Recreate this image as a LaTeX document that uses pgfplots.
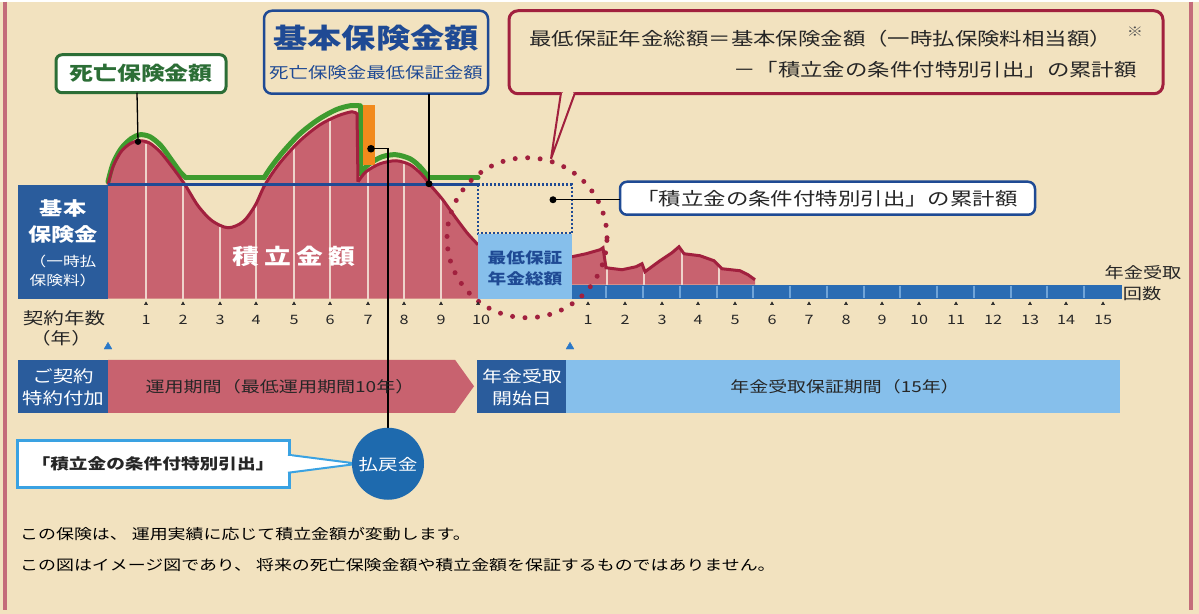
\documentclass[border=0pt]{standalone}
\usepackage{pgfplots}
\pgfplotsset{compat=1.18}
\usepackage{fontspec}
\setmainfont{Noto Sans CJK JP}
\definecolor{bg}{HTML}{F2E2BF}
\definecolor{frame}{HTML}{C46C7A}
\definecolor{pinkA}{HTML}{C8626F}
\definecolor{redL}{HTML}{A1203E}
\definecolor{greenL}{HTML}{3E9B2E}
\definecolor{greenT}{HTML}{2C6E36}
\definecolor{navy}{HTML}{1F4A94}
\definecolor{boxblue}{HTML}{2A5C9C}
\definecolor{lightblue}{HTML}{86BFEB}
\definecolor{barblue}{HTML}{2A6CB3}
\definecolor{sepblue}{HTML}{6FA4D8}
\definecolor{orangeB}{HTML}{F28A1C}
\definecolor{cyanB}{HTML}{3AA2E2}
\definecolor{circblue}{HTML}{1E6AAE}
\definecolor{tri}{HTML}{2A78C8}
\definecolor{txt}{HTML}{262626}
\definecolor{stem}{HTML}{EFD3CB}
\newcommand\fs[1]{\fontsize{#1}{#1}\selectfont}
\tikzset{t/.style={inner sep=0pt, xscale=1.25}}
\begin{document}
\begin{tikzpicture}
\begin{axis}[x=1bp, y=1bp, xmin=0, xmax=1199, ymin=0, ymax=612, y dir=reverse,
  hide axis, clip=false]
% background
\addplot[fill=bg, draw=none] coordinates {(0,0) (1199,0) (1199,612) (0,612)} --cycle;
\addplot[frame, line width=3.5bp] coordinates {(5,0) (5,608)};
\addplot[frame, line width=3.5bp] coordinates {(1191,0) (1191,608)};

% ---- accumulated amount (pink area), years 0-10
\addplot[fill=pinkA, draw=none] coordinates {
 (108,183) (113,165) (121,150) (130,142) (139,139) (149,141) (160,150) (172,165) (185,183)
 (198,204) (212,219) (228,226) (243,220) (255,204) (265,183) (280,161) (300,139) (320,123)
 (338,114) (352,110) (357,112) (358,180) (366,170) (380,162) (396,159) (410,163) (421,172)
 (430,183) (442,197) (455,215) (467,231) (478,243) (478,297) (108,297)} --cycle;
% pink area after year 10
\addplot[fill=pinkA, draw=none] coordinates {
 (572,255) (586,252) (600,248) (603,246) (606,266) (622,268) (636,265) (642,262) (645,270)
 (660,259) (672,251) (679,245) (684,252) (700,254) (714,259) (722,267) (740,269) (748,273)
 (755,278) (755,283) (572,283)} --cycle;
% light vertical year lines
\addplot[stem, line width=1.3bp, unbounded coords=jump] coordinates {
 (146,297) (146,142) (146,nan) (183,297) (183,181) (183,nan) (220,297) (220,225) (220,nan)
 (256,297) (256,203) (256,nan) (294,297) (294,145) (294,nan) (330,297) (330,119) (330,nan)
 (368,297) (368,169) (368,nan) (404,297) (404,161) (404,nan) (441,297) (441,196) (441,nan)
 (607,283) (607,267) (607,nan) (644,283) (644,268) (644,nan) (682,283) (682,250) (682,nan)
 (719,283) (719,265)};

% ---- death benefit (green)
\addplot[greenL, line width=5bp, smooth, line cap=round] coordinates {
 (108,180) (113,162) (121,147) (131,137) (140,133) (150,135) (161,144) (172,159) (180,170) (186,176)};
\addplot[greenL, line width=5bp, line cap=round] coordinates {(186,176) (264,176)};
\addplot[greenL, line width=5bp, smooth, line cap=round] coordinates {
 (264,176) (272,164) (284,149) (300,132) (318,118) (336,108) (350,104) (359,104)};
\addplot[greenL, line width=5bp, line cap=round] coordinates {(360,104) (360,172)};
\addplot[greenL, line width=5bp, smooth, line cap=round] coordinates {
 (360,172) (368,163) (382,155) (396,153) (410,157) (420,165) (429,176)};
\addplot[greenL, line width=5bp, line cap=round] coordinates {(429,176) (478,176)};
% orange withdrawal bar
\addplot[fill=orangeB, draw=none] coordinates {(363,103) (375,103) (375,163) (363,163)} --cycle;

% ---- accumulated amount line (red)
\addplot[redL, line width=3bp, smooth] coordinates {
 (108,183) (113,165) (121,150) (130,142) (139,139) (149,141) (160,150) (172,165) (185,183)
 (198,204) (212,219) (228,226) (243,220) (255,204) (265,183) (280,161) (300,139) (320,123)
 (338,114) (352,110) (357,112)};
\addplot[redL, line width=3bp] coordinates {(357,111) (358,180)};
\addplot[redL, line width=3bp, smooth] coordinates {
 (358,180) (366,170) (380,162) (396,159) (410,163) (421,172) (430,183) (442,197) (455,215)
 (467,231) (478,243)};
\addplot[redL, line width=3bp] coordinates {
 (572,255) (586,252) (600,248) (603,246) (606,266) (622,268) (636,265) (642,262) (645,270)
 (660,259) (672,251) (679,245) (684,252) (700,254) (714,259) (722,267) (740,269) (748,273)
 (755,278)};

% ---- basic insured amount line
\addplot[navy, line width=2.5bp] coordinates {(108,183) (478,183)};
\addplot[navy, line width=2.5bp, dash pattern=on 2bp off 2bp] coordinates {(478,183) (572,183) (572,232) (478,232) (478,183)};

% left blue box
\addplot[fill=boxblue, draw=none] coordinates {(18,183) (108,183) (108,297) (18,297)} --cycle;
% minimum guaranteed pension box
\addplot[fill=lightblue, draw=none] coordinates {(478,232) (572,232) (572,297) (478,297)} --cycle;
% pension payment bar
\addplot[fill=barblue, draw=none] coordinates {(572,283) (1122,283) (1122,297) (572,297)} --cycle;
\addplot[sepblue, line width=1.5bp, unbounded coords=jump] coordinates {
 (606,284) (606,296) (606,nan) (643,284) (643,296) (643,nan) (680,284) (680,296) (680,nan)
 (717,284) (717,296) (717,nan) (753,284) (753,296) (753,nan) (790,284) (790,296) (790,nan)
 (827,284) (827,296) (827,nan) (864,284) (864,296) (864,nan) (900,284) (900,296) (900,nan)
 (937,284) (937,296) (937,nan) (974,284) (974,296) (974,nan) (1011,284) (1011,296) (1011,nan)
 (1047,284) (1047,296) (1047,nan) (1084,284) (1084,296)};

% red dotted circle
\draw[redL, line width=5bp, line cap=round, dash pattern=on 0bp off 12.5bp] (axis cs:527,236) circle[radius=80bp];

% tick marks
\addplot[only marks, mark=triangle*, mark size=1.8bp, color=txt] coordinates {
 (146,302) (183,302) (220,302) (256,302) (294,302) (330,302) (368,302) (404,302) (441,302) (478,302)
 (588,302) (625,302) (662,302) (698,302) (735,302) (772,302) (809,302) (846,302) (882,302)
 (919,302) (956,302) (993,302) (1030,302) (1066,302) (1103,302)};
% start triangles
\addplot[only marks, mark=triangle*, mark size=4.5bp, color=tri] coordinates {(108,345) (570,345)};

% ---- timeline row
\fill[boxblue] (axis cs:18,358) rectangle (axis cs:108,411);
\fill[pinkA] (axis cs:108,358) -- (axis cs:455,358) -- (axis cs:474,384.5) -- (axis cs:455,411) -- (axis cs:108,411) -- cycle;
\fill[boxblue] (axis cs:477,358) rectangle (axis cs:566,411);
\fill[lightblue] (axis cs:566,358) rectangle (axis cs:1120,411);

% ---- callout boxes
\draw[greenT, line width=3bp, fill=white, rounded corners=6bp] (axis cs:56,53) rectangle (axis cs:226,91);
\draw[navy, line width=2.5bp, rounded corners=8bp] (axis cs:264,9) rectangle (axis cs:488,92);
\draw[redL, line width=3bp, rounded corners=9bp] (axis cs:509,9) rectangle (axis cs:1163,92);
\filldraw[redL, line width=2bp, fill=bg] (axis cs:561,91) -- (axis cs:551,157) -- (axis cs:575,91);
\fill[bg] (axis cs:562.5,89) rectangle (axis cs:573,94);
\draw[navy, line width=2.5bp, fill=white, rounded corners=7bp] (axis cs:620,180) rectangle (axis cs:1035,213);
% bottom-left callout
\draw[cyanB, line width=3bp, fill=white] (axis cs:17,439) rectangle (axis cs:289,486);
\filldraw[cyanB, line width=2bp, fill=white] (axis cs:288,453) -- (axis cs:358,462) -- (axis cs:288,471);
\fill[white] (axis cs:285,454.5) rectangle (axis cs:291.5,469.5);

% leader lines
\draw[black, line width=1.3bp] (axis cs:137,91) -- (axis cs:138,140);
\fill[black] (axis cs:138,140) circle[radius=3.2bp];
\draw[black, line width=1.3bp] (axis cs:429,92) -- (axis cs:429,182);
\fill[black] (axis cs:429,182) circle[radius=3.5bp];
\draw[black, line width=1.3bp] (axis cs:553,198) -- (axis cs:620,198);
\fill[black] (axis cs:553,198) circle[radius=3.5bp];
\draw[black, line width=1.5bp] (axis cs:371,147) -- (axis cs:388,147) -- (axis cs:388,428);
\fill[black] (axis cs:371,147) circle[radius=3.8bp];
\fill[circblue] (axis cs:388,462) circle[radius=36bp];

% ---- texts
\node[t, font=\fs{27.5}\bfseries, color=navy] at (axis cs:376,36) {基本保険金額};
\node[t, font=\fs{15.6}, color=navy] at (axis cs:376,71) {死亡保険金最低保証金額};
\node[t, font=\fs{19.2}\bfseries, color=greenT] at (axis cs:141,72) {死亡保険金額};
\node[t, anchor=west, font=\fs{18}, color=txt] at (axis cs:529,37) {最低保証年金総額＝基本保険金額（一時払保険料相当額）};
\node[t, font=\fs{13}, color=txt!80] at (axis cs:1135,30) {※};
\node[t, anchor=east, font=\fs{18}, color=txt] at (axis cs:1137,68) {－「積立金の条件付特別引出」の累計額};
\node[t, font=\fs{18}, color=txt] at (axis cs:827,197) {「積立金の条件付特別引出」の累計額};

\node[t, font=\fs{21.5}\bfseries, color=white] at (axis cs:294,255) {積\kern4bp 立\kern4bp 金\kern4bp 額};
\node[t, font=\fs{18.6}\bfseries, color=white] at (axis cs:63,207) {基本};
\node[t, font=\fs{18.6}\bfseries, color=white] at (axis cs:63,233) {保険金};
\node[t, font=\fs{13.4}, color=white] at (axis cs:63,260) {（一時払};
\node[t, font=\fs{13.4}, color=white] at (axis cs:63,279) {保険料）};
\node[t, font=\fs{15}\bfseries, color=navy] at (axis cs:525,256) {最低保証};
\node[t, font=\fs{15}\bfseries, color=navy] at (axis cs:525,277) {年金総額};

\node[t, font=\fs{16.5}, color=txt] at (axis cs:64,316) {契約年数};
\node[t, font=\fs{16.5}, color=txt] at (axis cs:61,337) {（年）};
\node[t, font=\fs{15.4}, color=txt] at (axis cs:1143,271) {年金受取};
\node[t, font=\fs{15.4}, color=txt] at (axis cs:1142,292) {回数};

\foreach \xx/\lab in {146/1,183/2,220/3,256/4,294/5,330/6,368/7,404/8,441/9,481/10,
  588/1,625/2,662/3,698/4,735/5,772/6,809/7,846/8,882/9,919/10,956/11,993/12,1030/13,1066/14,1103/15}{
  \edef\tmp{\noexpand\node[t, font=\noexpand\fs{13}, color=txt] at (axis cs:\xx,318) {\lab};}\tmp
}

\node[t, font=\fs{16.4}, color=white] at (axis cs:63,375) {ご契約};
\node[t, font=\fs{16.4}, color=white] at (axis cs:63,397) {特約付加};
\node[t, font=\fs{15.3}, color=txt] at (axis cs:280,385) {運用期間（最低運用期間10年）};
\node[t, font=\fs{16}, color=white] at (axis cs:522,375) {年金受取};
\node[t, font=\fs{16}, color=white] at (axis cs:522,397) {開始日};
\node[t, font=\fs{15.2}, color=txt] at (axis cs:845,385) {年金受取保証期間（15年）};

\node[t, font=\fs{15}\bfseries, color=txt] at (axis cs:153,462) {「積立金の条件付特別引出」};
\node[t, font=\fs{15.7}, color=white] at (axis cs:388,463) {払戻金};

\node[t, anchor=west, font=\fs{14.4}, color=black] at (axis cs:20,532) {この保険は、 運用実績に応じて積立金額が変動します。};
\node[t, anchor=west, font=\fs{14.4}, color=black] at (axis cs:20,563) {この図はイメージ図であり、 将来の死亡保険金額や積立金額を保証するものではありません。};
\end{axis}
\end{tikzpicture}
\end{document}
